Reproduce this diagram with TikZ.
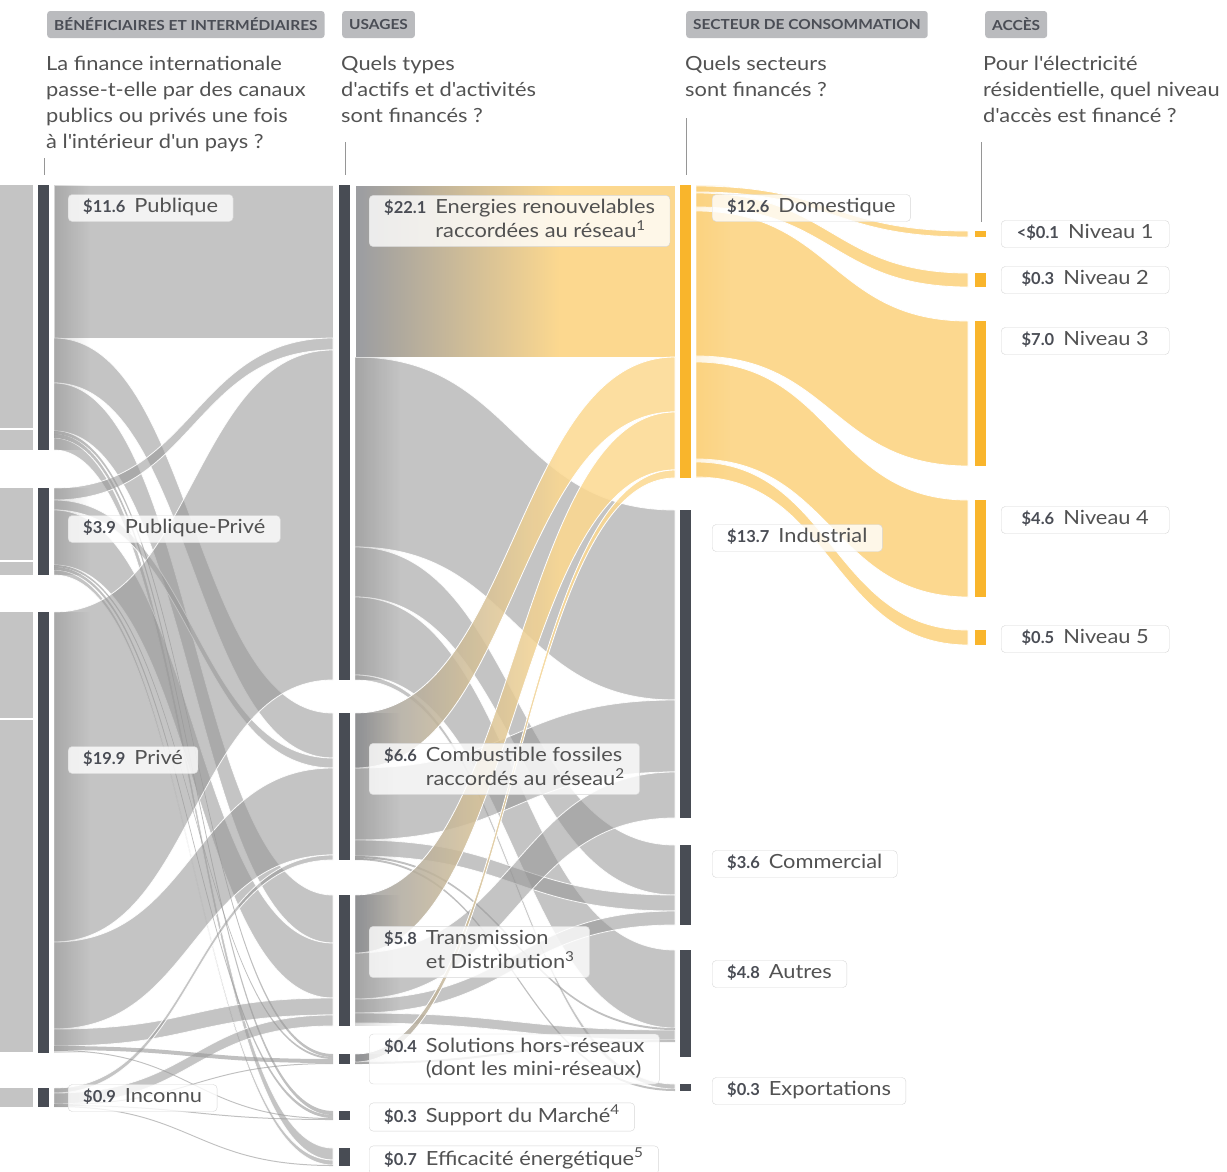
\documentclass[tikz,border=0pt]{standalone}
\usepackage{fontspec}
\setmainfont{Lato}[FakeStretch=1.12]
\newfontfamily\valfont{Lato}
\usetikzlibrary{fadings}

\definecolor{barDark}{RGB}{72,76,84}
\definecolor{flowGrey}{RGB}{150,150,150}
\definecolor{blockGrey}{RGB}{196,196,196}
\definecolor{barOrange}{RGB}{249,181,44}
\definecolor{flowOrange}{RGB}{252,216,143}
\definecolor{erGrey}{RGB}{157,158,161}
\definecolor{tagGrey}{RGB}{186,187,190}
\definecolor{tagText}{RGB}{74,77,85}
\definecolor{headText}{RGB}{82,82,82}
\definecolor{labelEdge}{RGB}{214,214,214}
\definecolor{leaderGrey}{RGB}{150,150,150}

\pgfdeclarehorizontalshading{greytoorange}{100bp}{color(0bp)=(erGrey); color(26bp)=(erGrey); color(57bp)=(flowOrange); color(100bp)=(flowOrange)}

% band of a sankey: source x, source top, target x, target top, width
\newcommand{\flowband}[6][]{%
  \pgfmathsetmacro\bxm{(#2+#4)/2}%
  \pgfmathsetmacro\bya{#3+#6}%
  \pgfmathsetmacro\byb{#5+#6}%
  \path[#1] (#2,#3) .. controls (\bxm,#3) and (\bxm,#5) .. (#4,#5)
    -- (#4,\byb) .. controls (\bxm,\byb) and (\bxm,\bya) .. (#2,\bya) -- cycle;}

\newcommand{\val}[1]{{\valfont\bfseries\fontsize{16.5}{16.5}\selectfont\color{tagText}#1}}
\newcommand{\lab}[2]{\begin{tabular}{@{}l@{\hspace{9pt}}l@{}}\val{#1} & #2\end{tabular}}
\newcommand{\ap}{\textquotesingle}

\begin{document}
\begin{tikzpicture}[x=1pt, y=-1pt,
    greyflow/.style={fill=flowGrey, fill opacity=0.56, draw=white, draw opacity=0.9, line width=0.8pt},
    hairflow/.style={fill=flowGrey, fill opacity=0.6},
    mixflow/.style={shade, shading=greytoorange, fill opacity=0.85, draw=white, line width=0.8pt},
    accessflow/.style={fill=flowOrange, draw=white, line width=0.8pt},
    tagbox/.style={fill=tagGrey, rounded corners=3pt, anchor=west, inner xsep=7pt, minimum height=27pt,
        text=tagText, font=\bfseries\fontsize{13.8}{13.8}\selectfont},
    question/.style={anchor=north west, align=left, inner sep=0pt, text=headText,
        font=\fontsize{19.5}{26}\selectfont},
    valbox/.style={anchor=west, draw=labelEdge, fill=white, fill opacity=0.8, text opacity=1,
        rounded corners=4pt, inner xsep=15pt, inner ysep=2pt, text=headText,
        font=\fontsize{19.5}{23}\selectfont},
    levelbox/.style={valbox, fill opacity=1, minimum width=168pt},
    leader/.style={draw=leaderGrey, line width=0.7pt}]

\useasboundingbox (0,0) rectangle (1227,1171);

% ends of the previous stage, cut at the left edge
\foreach \ya/\yb in {185/428, 430/450, 488/560, 562/575, 612/718, 720/1052, 1088/1107}
  \fill[blockGrey] (0,\ya) rectangle (33,\yb);

% beneficiaries -> uses
\foreach \ya/\yb/\w in {185/185/153, 338/713/45, 383/895/48, 438/1148/12,
    488/338/12, 500/758/10, 510/943/55, 570/1160/5,
    612/350/330, 942/768/87, 1029/998/17, 1088/855/5, 1093/1015/11}
  {\flowband[greyflow]{54}{\ya}{333}{\yb}{\w}}
\foreach \ya/\yb/\w in {431/1054/3, 434/1111/4, 565/1057/2, 567/1115/3,
    1046/1059/4, 1050/1118/1, 1104/1063/1, 1105/1119/1, 1106/1165/1}
  {\flowband[hairflow]{54}{\ya}{333}{\yb}{\w}}

% uses -> sectors
\foreach \ya/\yb/\w in {357/510/190, 547/845/50, 597/950/78, 675/1084/5,
    768/700/72, 840/895/16, 953/772/46, 999/911/14, 1013/1030/10}
  {\flowband[greyflow]{355}{\ya}{675}{\yb}{\w}}
\foreach \ya/\yb/\w in {856/1028/2, 858/1089/2, 1062/1040/2}
  {\flowband[hairflow]{355}{\ya}{675}{\yb}{\w}}
\flowband[mixflow, fill opacity=1]{355}{185}{675}{185}{172}
\foreach \ya/\yb/\w in {713/357/55, 895/412/58, 1054/470/8}
  {\flowband[mixflow]{355}{\ya}{675}{\yb}{\w}}

% residential -> access levels
\foreach \ya/\yb/\w in {186/231/6, 193/273/14, 211/321/145, 362/500/97, 462/630/15}
  {\flowband[accessflow]{696}{\ya}{968}{\yb}{\w}}

% darker start of the bands
\foreach \ya/\yb in {185/450, 488/575, 612/1053, 1088/1107}
  \fill[black, opacity=0.14, path fading=east] (54,\ya) rectangle (90,\yb);
\foreach \ya/\yb in {357/680, 713/860, 895/1026, 1054/1064}
  \fill[black, opacity=0.16, path fading=east] (355,\ya) rectangle (400,\yb);
\fill[barOrange, opacity=0.15, path fading=east] (696,185) rectangle (730,478);

% bars
\foreach \ya/\yb in {185/450, 488/575, 612/1053, 1088/1107}
  \fill[barDark] (38,\ya) rectangle (49,\yb);
\foreach \ya/\yb in {185/680, 713/860, 895/1026, 1054/1064, 1111/1120, 1148/1166}
  \fill[barDark] (339,\ya) rectangle (350,\yb);
\fill[barOrange] (680,185) rectangle (691,478);
\foreach \ya/\yb in {510/818, 845/925, 950/1057, 1084/1091}
  \fill[barDark] (680,\ya) rectangle (691,\yb);
\foreach \ya/\yb in {231/237, 273/287, 321/466, 500/597, 630/645}
  \fill[barOrange] (975,\ya) rectangle (986,\yb);

% column headers
\node[tagbox] (tagBenef) at (47,24.5) {BÉNÉFICIAIRES ET INTERMÉDIAIRES};
\node[tagbox] (tagUsages) at (342,24.5) {USAGES};
\node[tagbox] (tagSecteur) at (686,24.5) {SECTEUR DE CONSOMMATION};
\node[tagbox] (tagAcces) at (985,24.5) {ACCÈS};

\node[question] (qBenef) at (46,56) {La finance internationale\\passe-t-elle par des canaux\\publics ou privés une fois\\à l\ap intérieur d\ap un pays ?};
\node[question] (qUsages) at (341,56) {Quels types\\d\ap actifs et d\ap activités\\sont financés ?};
\node[question] (qSecteur) at (685,56) {Quels secteurs\\sont financés ?};
\node[question] (qAcces) at (983,56) {Pour l\ap électricité\\résidentielle, quel niveau\\d\ap accès est financé ?};

\draw[leader] (44,158) -- (44,175);
\draw[leader] (345,142) -- (345,175);
\draw[leader] (686,118) -- (686,175);
\draw[leader] (981,142) -- (981,222);

% labels
\node[valbox] (lPub) at (68,208) {\lab{\$11.6}{Publique}};
\node[valbox] (lPubPriv) at (68,529) {\lab{\$3.9}{Publique-Privé}};
\node[valbox] (lPriv) at (68,760) {\lab{\$19.9}{Privé}};
\node[valbox] (lInc) at (68,1098) {\lab{\$0.9}{Inconnu}};

\node[valbox] (lRenew) at (369,221) {\lab{\$22.1}{Energies renouvelables\\ & raccordées au réseau\textsuperscript{1}}};
\node[valbox] (lFossil) at (369,769) {\lab{\$6.6}{Combustible fossiles\\ & raccordés au réseau\textsuperscript{2}}};
\node[valbox] (lGrid) at (369,952) {\lab{\$5.8}{Transmission\\ & et Distribution\textsuperscript{3}}};
\node[valbox] (lOffgrid) at (369,1059) {\lab{\$0.4}{Solutions hors-réseaux\\ & (dont les mini-réseaux)}};
\node[valbox] (lMarket) at (369,1117) {\lab{\$0.3}{Support du Marché\textsuperscript{4}}};
\node[valbox] (lEffic) at (369,1160) {\lab{\$0.7}{Efficacité énergétique\textsuperscript{5}}};

\node[valbox] (lDom) at (712,208) {\lab{\$12.6}{Domestique}};
\node[valbox] (lInd) at (712,538) {\lab{\$13.7}{Industrial}};
\node[valbox] (lCom) at (712,864) {\lab{\$3.6}{Commercial}};
\node[valbox] (lAut) at (712,974) {\lab{\$4.8}{Autres}};
\node[valbox] (lExp) at (712,1091) {\lab{\$0.3}{Exportations}};

\node[levelbox] (lN1) at (1001,234) {\lab{<\$0.1}{Niveau 1}};
\node[levelbox] (lN2) at (1001,280) {\lab{\$0.3}{Niveau 2}};
\node[levelbox] (lN3) at (1001,341) {\lab{\$7.0}{Niveau 3}};
\node[levelbox] (lN4) at (1001,520) {\lab{\$4.6}{Niveau 4}};
\node[levelbox] (lN5) at (1001,639) {\lab{\$0.5}{Niveau 5}};
\end{tikzpicture}
\end{document}
